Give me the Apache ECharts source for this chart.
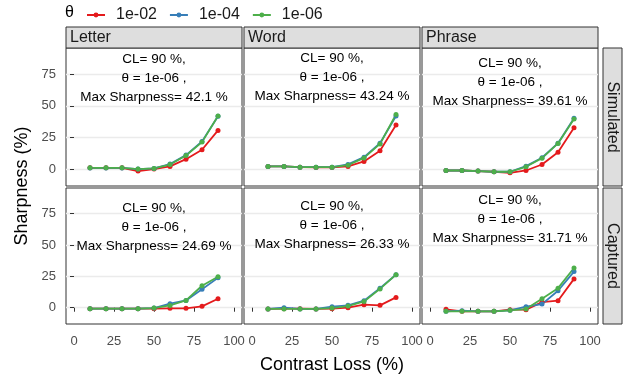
<!DOCTYPE html>
<html>
<head>
<meta charset="utf-8">
<script src="https://cdn.jsdelivr.net/npm/echarts@6/dist/echarts.min.js"></script>
<style>
  html, body { margin: 0; padding: 0; background: #fff; }
  #chart { width: 624px; height: 381px; }
</style>
</head>
<body>
<div id="chart"></div>
<script>
// contrast loss levels (x) shared by every panel
const contrastLoss = [10, 20, 30, 40, 50, 60, 70, 80, 90]
const thetas = ['1e-02', '1e-04', '1e-06']
const thetaColors = ['#E41A1C', '#377EB8', '#4DAF4A']
const textTypes = ['Letter', 'Word', 'Phrase']
const sources = ['Simulated', 'Captured']
const xTicks = [0, 25, 50, 75, 100]
const yTicks = [0, 25, 50, 75]

// Simulated row
const letterSim1e02 = [1.3, 1.3, 1.3, -1.3, 0.3, 2.4, 8.1, 15.5, 30.7]
const letterSim1e04 = [1.2, 1.2, 1.2, 0.3, 0.8, 4.2, 11.3, 22.0, 41.8]
const letterSim1e06 = [1.3, 1.3, 1.3, 0.3, 0.8, 3.9, 11.0, 21.5, 42.1]
const wordSim1e02 = [2.4, 2.4, 1.8, 1.6, 1.6, 2.4, 6.3, 14.7, 34.9]
const wordSim1e04 = [2.4, 2.4, 1.8, 1.8, 1.8, 4.0, 9.7, 20.6, 42.0]
const wordSim1e06 = [2.4, 2.4, 1.8, 1.8, 1.8, 3.4, 9.1, 20.1, 43.24]
const phraseSim1e02 = [-0.8, -0.8, -1.3, -1.8, -2.6, -0.8, 3.9, 13.6, 32.8]
const phraseSim1e04 = [-0.8, -0.8, -1.3, -1.8, -1.8, 2.6, 9.2, 20.7, 40.2]
const phraseSim1e06 = [-0.8, -0.8, -1.3, -1.8, -1.8, 2.1, 8.9, 20.5, 39.61]

// Captured row
const letterCap1e02 = [-0.8, -0.8, -0.8, -0.8, -0.8, -0.5, -0.5, 1.1, 7.1]
const letterCap1e04 = [-0.8, -0.8, -0.8, -0.8, -0.3, 3.2, 5.8, 14.8, 23.8]
const letterCap1e06 = [-0.8, -0.8, -0.8, -0.8, -0.3, 1.8, 5.8, 17.5, 24.69]
const wordCap1e02 = [-1.0, -0.8, -0.8, -1.0, -0.8, 0.0, 2.4, 1.9, 8.2]
const wordCap1e04 = [-1.0, 0.0, -1.0, -1.0, 0.8, 1.9, 5.6, 15.6, 26.3]
const wordCap1e06 = [-1.0, -1.0, -1.0, -1.0, -0.3, 1.3, 5.0, 15.0, 26.33]
const phraseCap1e02 = [-1.3, -2.9, -2.9, -2.9, -1.6, -1.6, 4.5, 5.6, 23.0]
const phraseCap1e04 = [-2.9, -2.4, -2.9, -2.9, -2.1, 0.8, 2.9, 13.5, 28.8]
const phraseCap1e06 = [-2.9, -2.9, -2.9, -2.9, -2.1, -1.1, 7.1, 15.6, 31.71]

// max sharpness shown in each panel's note (theta = 1e-06, CL = 90 %)
const maxSharpSim = ['42.1', '43.24', '39.61']
const maxSharpCap = ['24.69', '26.33', '31.71']

const panelData = [
  [
    [letterSim1e02, letterSim1e04, letterSim1e06],
    [wordSim1e02, wordSim1e04, wordSim1e06],
    [phraseSim1e02, phraseSim1e04, phraseSim1e06],
  ],
  [
    [letterCap1e02, letterCap1e04, letterCap1e06],
    [wordCap1e02, wordCap1e04, wordCap1e06],
    [phraseCap1e02, phraseCap1e04, phraseCap1e06],
  ],
]
const maxLabels = [maxSharpSim, maxSharpCap]

const FONT = "'Liberation Sans', Arial, sans-serif"
const colLeft = [66, 244, 422]
const colWidth = 176
const rowTop = [48, 188]
const rowHeight = [138, 136]
const noteOffset = [29.3, 39.2]

const chart = echarts.init(document.getElementById('chart'))

const grids = []
const xAxes = []
const yAxes = []
const series = []

sources.forEach((src, r) => {
  textTypes.forEach((name, c) => {
    const gi = grids.length
    const isBottom = r === sources.length - 1
    const isLeft = c === 0
    grids.push({
      left: colLeft[c],
      top: rowTop[r],
      width: colWidth,
      height: rowHeight[r],
      show: true,
      backgroundColor: '#fff',
      borderColor: '#333',
      borderWidth: 1,
    })
    xAxes.push({
      gridIndex: gi,
      type: 'value',
      min: -5,
      max: 105,
      axisLine: { show: false },
      axisTick: {
        show: isBottom,
        customValues: xTicks,
        length: 4,
        lineStyle: { color: '#333' },
      },
      axisLabel: {
        show: isBottom,
        customValues: xTicks,
        color: '#4D4D4D',
        fontSize: 13,
        fontFamily: FONT,
        margin: 11,
      },
      splitLine: { show: false },
    })
    yAxes.push({
      gridIndex: gi,
      type: 'value',
      min: -13,
      max: 95.5,
      axisLine: { show: false },
      axisTick: {
        show: isLeft,
        customValues: yTicks,
        length: 4,
        lineStyle: { color: '#333' },
      },
      axisLabel: {
        show: isLeft,
        customValues: yTicks,
        color: '#4D4D4D',
        fontSize: 13,
        fontFamily: FONT,
        margin: 10,
      },
      splitLine: { show: true, lineStyle: { color: '#EBEBEB', width: 1.3 } },
    })

    const rows = panelData[r][c]
    rows.forEach((vals, k) => {
      const s = {
        name: thetas[k],
        type: 'line',
        xAxisIndex: gi,
        yAxisIndex: gi,
        data: contrastLoss.map((x, i) => [x, vals[i]]),
        symbol: 'circle',
        symbolSize: 5,
        color: thetaColors[k],
        lineStyle: { width: 1.8 },
        animation: false,
      }
      if (k === thetas.length - 1) {
        const peak = Math.max(...vals)
        s.markPoint = {
          silent: true,
          symbol: 'circle',
          symbolSize: 1,
          itemStyle: { color: 'rgba(0,0,0,0)' },
          label: {
            show: true,
            position: 'inside',
            color: '#000',
            fontSize: 13.5,
            lineHeight: 19,
            fontFamily: FONT,
            align: 'center',
            verticalAlign: 'middle',
            formatter: 'CL= 90 %,\nθ = 1e-06 ,\nMax Sharpness= ' + maxLabels[r][c] + ' %',
          },
          data: [{ coord: [50, peak + noteOffset[r]] }],
        }
      }
      series.push(s)
    })
  })
})

// facet strips, axis titles and legend title
const graphics = []
textTypes.forEach((name, c) => {
  graphics.push({
    type: 'rect',
    shape: { x: colLeft[c], y: 27, width: colWidth, height: 21 },
    style: { fill: '#DEDEDE', stroke: '#333', lineWidth: 1 },
  })
  graphics.push({
    type: 'text',
    x: colLeft[c] + 4,
    y: 38,
    style: {
      text: name,
      font: '16px ' + FONT,
      fill: '#1A1A1A',
      textVerticalAlign: 'middle',
    },
  })
})
sources.forEach((src, r) => {
  graphics.push({
    type: 'rect',
    shape: { x: 603, y: rowTop[r], width: 19, height: rowHeight[r] },
    style: { fill: '#DEDEDE', stroke: '#333', lineWidth: 1 },
  })
  graphics.push({
    type: 'text',
    x: 612.5,
    y: rowTop[r] + rowHeight[r] / 2,
    rotation: -Math.PI / 2,
    style: {
      text: src,
      font: '16px ' + FONT,
      fill: '#1A1A1A',
      textAlign: 'center',
      textVerticalAlign: 'middle',
    },
  })
})
graphics.push({
  type: 'text',
  x: 22,
  y: 186,
  rotation: Math.PI / 2,
  style: {
    text: 'Sharpness (%)',
    font: '18px ' + FONT,
    fill: '#000',
    textAlign: 'center',
    textVerticalAlign: 'middle',
  },
})
graphics.push({
  type: 'text',
  x: 332,
  y: 365,
  style: {
    text: 'Contrast Loss (%)',
    font: '18px ' + FONT,
    fill: '#000',
    textAlign: 'center',
    textVerticalAlign: 'middle',
  },
})
graphics.push({
  type: 'text',
  x: 65,
  y: 13,
  style: {
    text: 'θ',
    font: '16px ' + FONT,
    fill: '#000',
    textVerticalAlign: 'middle',
  },
})

chart.setOption({
  animation: false,
  backgroundColor: '#fff',
  legend: {
    data: thetas,
    left: 81,
    top: 2,
    itemWidth: 18,
    itemHeight: 6,
    itemGap: 12,
    textStyle: { fontSize: 16, fontFamily: FONT, color: '#1A1A1A', padding: [0, 0, 0, 6] },
  },
  grid: grids,
  xAxis: xAxes,
  yAxis: yAxes,
  series: series,
  graphic: graphics,
})
</script>
</body>
</html>
